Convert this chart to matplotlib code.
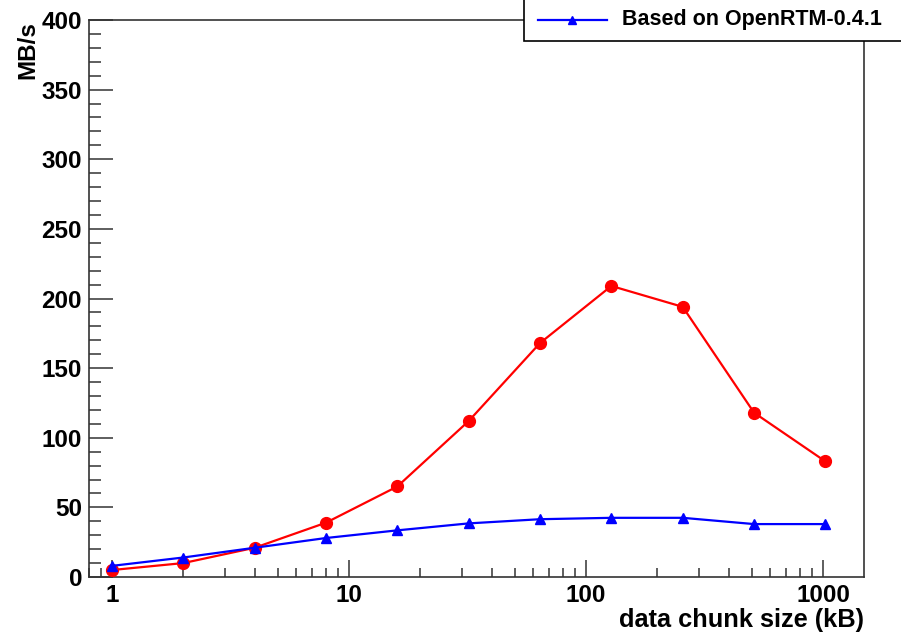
import matplotlib
matplotlib.use("Agg")
import matplotlib.pyplot as plt
from matplotlib.lines import Line2D
from matplotlib.patches import Rectangle

plt.rcParams['font.family'] = ['Liberation Sans', 'DejaVu Sans']
plt.rcParams['font.weight'] = 'bold'

chunk_kb = [1, 2, 4, 8, 16, 32, 64, 128, 256, 512, 1024]
red_mbps = [5, 10, 21, 39, 65, 112, 168, 209, 194, 118, 83]
blue_mbps = [8, 14, 21, 28, 33.5, 38.5, 41.5, 42.5, 42.5, 38, 38]
legend_label = "Based on OpenRTM-0.4.1"
y_ticks = [0, 50, 100, 150, 200, 250, 300, 350, 400]
x_ticks = [1, 10, 100, 1000]
x_ticklabels = ["1", "10", "100", "1000"]

W, H = 901, 633
fig = plt.figure(figsize=(W / 100, H / 100), dpi=100)
L, R, T, B = 89, 864, 20, 577
ax = fig.add_axes([L / W, 1 - B / H, (R - L) / W, (B - T) / H])

ax.plot(chunk_kb, red_mbps, color='#ff0000', lw=1.6, marker='o', ms=8.5,
        mec='#ff0000', mfc='#ff0000', zorder=3)
ax.plot(chunk_kb, blue_mbps, color='#0000ff', lw=1.6, marker='^', ms=7,
        mec='#0000ff', mfc='#0000ff', zorder=4)

ax.set_xscale('log')
ax.set_xlim(0.8, 1490)
ax.set_ylim(0, 400)
ax.set_yticks(y_ticks)
ax.set_yticks(range(0, 401, 10), minor=True)
ax.set_xticks(x_ticks)
ax.set_xticklabels(x_ticklabels)

for s in ax.spines.values():
    s.set_color('#333333')
    s.set_linewidth(1.2)

ax.tick_params(axis='y', which='major', direction='in', length=17, width=1.1,
               color='#333333', labelsize=17.5, pad=5, right=False)
ax.tick_params(axis='y', which='minor', direction='in', length=8.5, width=1.1,
               color='#333333', right=False)
ax.tick_params(axis='x', which='major', direction='in', length=12, width=1.1,
               color='#333333', labelsize=17.5, pad=5, top=False)
ax.tick_params(axis='x', which='minor', direction='in', length=6.5, width=1.1,
               color='#333333', top=False)
for lab in ax.get_xticklabels() + ax.get_yticklabels():
    lab.set_fontweight('bold')

ax.set_xlabel("data chunk size (kB)", fontsize=18.3, fontweight='bold')
ax.xaxis.label.set_ha('right')
ax.xaxis.label.set_va('baseline')
ax.xaxis.set_label_coords(1.0, -(627 - B) / (B - T))

ax.set_ylabel("MB/s", fontsize=17.5, fontweight='bold')
ax.yaxis.label.set_ha('right')
ax.yaxis.label.set_va('center')
ax.yaxis.set_label_coords(-(L - 28) / (R - L), 1.0 - (21 - T) / (B - T))

# legend box (partially outside the figure, as in the reference)
def fx(px):
    return px / W

def fy(py):
    return 1 - py / H

rect = Rectangle((fx(524), fy(41)), fx(920) - fx(524), fy(-5) - fy(41),
                 transform=fig.transFigure, facecolor='white',
                 edgecolor='black', lw=1.2, zorder=10)
fig.add_artist(rect)
fig.add_artist(Line2D([fx(538), fx(607)], [fy(20), fy(20)], color='#0000ff',
                      lw=1.6, transform=fig.transFigure, zorder=11))
fig.add_artist(Line2D([fx(572)], [fy(20)], color='#0000ff', marker='^', ms=6,
                      transform=fig.transFigure, zorder=11))
fig.text(fx(622), fy(20), legend_label, fontsize=15.5, fontweight='bold',
         ha='left', va='center', zorder=12)

fig.savefig("out.png", dpi=100)
